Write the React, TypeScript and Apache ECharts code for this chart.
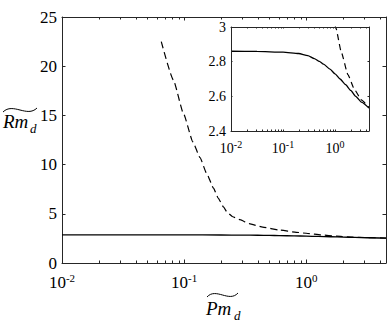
import React, { useEffect, useRef } from "react";
import * as echarts from "echarts";

// ---- data ----
const solidX = [0.01, 0.0316, 0.1, 0.2, 0.3, 0.4, 0.5, 0.6, 0.8, 1.0, 1.25, 1.6, 2.0, 2.5, 3.2, 4.5];
const solidY = [2.86, 2.859, 2.855, 2.847, 2.835, 2.818, 2.802, 2.786, 2.757, 2.73, 2.70, 2.667, 2.634, 2.60, 2.567, 2.532];

const dashX = [0.065, 0.0817, 0.0987, 0.118, 0.135, 0.153, 0.174, 0.19, 0.21, 0.225, 0.25, 0.287, 0.34, 0.44, 0.6, 0.83, 1.03, 1.32, 1.77, 2.38, 3.2, 4.5];
const dashY = [22.5, 18.6, 15.2, 12.3, 10.7, 9.1, 7.6, 6.6, 5.7, 5.15, 4.7, 4.4, 4.0, 3.65, 3.35, 3.12, 3.0, 2.855, 2.725, 2.638, 2.58, 2.536];

const minorTickX = [0.02, 0.03, 0.04, 0.05, 0.06, 0.07, 0.08, 0.09, 0.2, 0.3, 0.4, 0.5, 0.6, 0.7, 0.8, 0.9, 2, 3, 4];

const xMin = 0.01;
const xMax = 4.5;
const mainYMin = 0;
const mainYMax = 25;
const mainYInterval = 5;
const insetYMin = 2.4;
const insetYMax = 3;
const insetYInterval = 0.2;

const FONT = '"Times New Roman", "Liberation Serif", "DejaVu Serif", serif';
const AX = "#262626";

function pairs(xs: number[], ys: number[]) {
  return xs.map((x, i) => [x, ys[i]]);
}

function logFormatter(v: number) {
  const e = Math.round(Math.log10(v));
  if (Math.abs(v - Math.pow(10, e)) / Math.pow(10, e) > 1e-6) return "";
  return "{b|10}{s|" + e + "}";
}

function minorTickSeries(xIdx: number, yIdx: number, yLo: number, yHi: number, len: number, z: number) {
  return {
    type: "custom",
    xAxisIndex: xIdx,
    yAxisIndex: yIdx,
    silent: true,
    z,
    data: minorTickX.map((v) => [v, yLo]),
    renderItem: (params: any, api: any) => {
      const v = api.value(0);
      const b = api.coord([v, yLo]);
      const t = api.coord([v, yHi]);
      const x = Math.round(b[0]) + 0.5;
      return {
        type: "group",
        children: [
          { type: "line", shape: { x1: x, y1: b[1], x2: x, y2: b[1] - len }, style: { stroke: AX, lineWidth: 1 } },
          { type: "line", shape: { x1: x, y1: t[1], x2: x, y2: t[1] + len }, style: { stroke: AX, lineWidth: 1 } },
        ],
      };
    },
  };
}

function xAxisDef(gridIndex: number, position: string, showLabel: boolean, fs: number, ss: number, tickLen: number, margin: number, z: number) {
  return {
    type: "log",
    logBase: 10,
    gridIndex,
    position,
    min: xMin,
    max: xMax,
    z,
    axisLine: { show: true, onZero: false, lineStyle: { color: AX, width: 1 } },
    axisTick: { show: true, inside: true, length: tickLen, lineStyle: { color: AX } },
    splitLine: { show: false },
    minorTick: { show: false },
    axisLabel: {
      show: showLabel,
      margin,
      showMaxLabel: false,
      formatter: logFormatter,
      fontFamily: FONT,
      rich: {
        b: { fontFamily: FONT, fontSize: fs, color: "#000", lineHeight: fs + 4 },
        s: { fontFamily: FONT, fontSize: ss, color: "#000", verticalAlign: "top", lineHeight: ss + 1 },
      },
    },
  };
}

function yAxisDef(gridIndex: number, position: string, showLabel: boolean, min: number, max: number, interval: number, fs: number, tickLen: number, margin: number, z: number) {
  return {
    type: "value",
    gridIndex,
    position,
    min,
    max,
    interval,
    z,
    axisLine: { show: true, onZero: false, lineStyle: { color: AX, width: 1 } },
    axisTick: { show: true, inside: true, length: tickLen, lineStyle: { color: AX } },
    splitLine: { show: false },
    axisLabel: {
      show: showLabel,
      margin,
      fontFamily: FONT,
      fontSize: fs,
      color: "#000",
      formatter: (v: number) => String(+v.toFixed(1)),
    },
  };
}

export default function App() {
  const ref = useRef<HTMLDivElement>(null);
  useEffect(() => {
    if (!ref.current) return;
    const chart = echarts.init(ref.current, undefined, { renderer: "svg" });
    const solid = pairs(solidX, solidY);
    const dashed = pairs(dashX, dashY);
    chart.setOption({
      animation: false,
      backgroundColor: "#fff",
      textStyle: { fontFamily: FONT },
      grid: [
        { left: 62, top: 17, right: 2, bottom: 64, containLabel: false, z: 0 },
        { left: 231, top: 27, right: 19, bottom: 196, containLabel: false, show: true, backgroundColor: "#fff", borderWidth: 0, z: 5 },
      ],
      xAxis: [
        xAxisDef(0, "bottom", true, 17, 11, 3.5, 9, 1),
        xAxisDef(0, "top", false, 17, 11, 3.5, 9, 1),
        xAxisDef(1, "bottom", true, 14, 10, 1.5, 8, 8),
        xAxisDef(1, "top", false, 14, 10, 1.5, 8, 8),
      ],
      yAxis: [
        yAxisDef(0, "left", true, mainYMin, mainYMax, mainYInterval, 17, 3.5, 5, 1),
        yAxisDef(0, "right", false, mainYMin, mainYMax, mainYInterval, 17, 3.5, 5, 1),
        yAxisDef(1, "left", true, insetYMin, insetYMax, insetYInterval, 14, 1.5, 5, 8),
        yAxisDef(1, "right", false, insetYMin, insetYMax, insetYInterval, 14, 1.5, 5, 8),
      ],
      series: [
        {
          type: "line", xAxisIndex: 0, yAxisIndex: 0, data: solid, showSymbol: false, smooth: 0.2, smoothMonotone: "x", z: 2,
          lineStyle: { color: "#000", width: 1.3 },
        },
        {
          type: "line", xAxisIndex: 0, yAxisIndex: 0, data: dashed, showSymbol: false, smooth: 0.15, smoothMonotone: "x", z: 2,
          lineStyle: { color: "#000", width: 1.2, type: [7, 4] },
        },
        minorTickSeries(0, 0, mainYMin, mainYMax, 2.5, 3),
        {
          type: "line", xAxisIndex: 2, yAxisIndex: 2, data: solid, showSymbol: false, smooth: 0.2, smoothMonotone: "x", z: 7, clip: true,
          lineStyle: { color: "#000", width: 1.3 },
        },
        {
          type: "line", xAxisIndex: 2, yAxisIndex: 2, data: dashed, showSymbol: false, smooth: 0.15, smoothMonotone: "x", z: 7, clip: true,
          lineStyle: { color: "#000", width: 1.2, type: [6, 4] },
        },
        minorTickSeries(2, 2, insetYMin, insetYMax, 1.5, 9),
      ],
      graphic: [
        { type: "bezierCurve", shape: { x1: 3, y1: 112, x2: 37, y2: 108, cpx1: 13, cpy1: 102, cpx2: 27, cpy2: 118 }, style: { stroke: "#000", lineWidth: 1, fill: null } },
        { type: "text", x: 3, y: 121, style: { text: "Rm", fontFamily: FONT, fontStyle: "italic", fontSize: 19, fill: "#000", verticalAlign: "middle", align: "left" } },
        { type: "text", x: 30, y: 128, style: { text: "d", fontFamily: FONT, fontStyle: "italic", fontSize: 13, fill: "#000", verticalAlign: "middle", align: "left" } },
        { type: "bezierCurve", shape: { x1: 207, y1: 297, x2: 238, y2: 293, cpx1: 216, cpy1: 287, cpx2: 229, cpy2: 303 }, style: { stroke: "#000", lineWidth: 1, fill: null } },
        { type: "text", x: 206, y: 308, style: { text: "Pm", fontFamily: FONT, fontStyle: "italic", fontSize: 19, fill: "#000", verticalAlign: "middle", align: "left" } },
        { type: "text", x: 234, y: 315, style: { text: "d", fontFamily: FONT, fontStyle: "italic", fontSize: 13, fill: "#000", verticalAlign: "middle", align: "left" } },
      ],
    });
    return () => chart.dispose();
  }, []);
  return <div ref={ref} style={{ position: "absolute", left: 0, top: 0, width: 388, height: 327 }} />;
}
